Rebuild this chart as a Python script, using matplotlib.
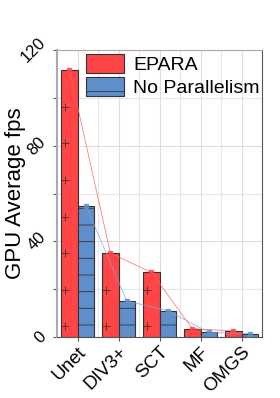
import matplotlib
matplotlib.use("Agg")
import matplotlib.pyplot as plt
import numpy as np

# data
models = ['Unet', 'DIV3+', 'SCT', 'MF', 'OMGS']
epara = [111.7, 35.1, 27.1, 3.5, 2.6]
no_parallel = [55.0, 15.1, 11.1, 2.0, 1.5]

plt.rcParams['font.family'] = ['Liberation Sans', 'DejaVu Sans']
plt.rcParams['hatch.linewidth'] = 0.6

red = '#ff4545'
blue = '#5f8fcb'

fig = plt.figure(figsize=(2.8, 3.98), dpi=100)
ax = fig.add_axes([0.204, 0.153, 0.732, 0.721])

x = np.arange(len(models))
w = 0.4

ax.bar(x - w / 2, epara, w, color=red, edgecolor='#333333', linewidth=0.8,
       label='EPARA', zorder=2)
ax.bar(x + w / 2, no_parallel, w, color=blue, edgecolor='#333333', linewidth=0.8,
       hatch='-', label='No Parallelism', zorder=2)

# sparse '+' texture on the red bars
for xi, h in zip(x, epara):
    ys = np.arange(4.5, h - 1.5, 15.3)
    ax.plot(np.full(len(ys), xi - w / 2 - 0.1), ys, ls='none', marker='+',
            ms=6, mew=0.7, color='#553333', zorder=3)

# connecting lines over the bar tops
ax.plot(x - w / 2, epara, color='#ff6060', lw=0.6, marker='s', ms=2.5,
        mec=red, mfc=red, alpha=0.8, zorder=4)
ax.plot(x + w / 2, no_parallel, color='#7fa6d6', lw=0.6, marker='s', ms=2.5,
        mec=blue, mfc=blue, alpha=0.8, zorder=4)

ax.set_xlim(-0.5, 4.5)
ax.set_ylim(0, 120)
ax.set_yticks([0, 40, 80, 120])
ax.set_yticks([20, 60, 100], minor=True)
ax.set_xticks(x)
ax.set_xticks(x[:-1] + 0.5, minor=True)
ax.set_xticklabels(models, rotation=45, ha='right', rotation_mode='anchor',
                   fontsize=13.5)
ax.set_yticklabels(['0', '40', '80', '120'], rotation=45, fontsize=12,
                   va='center')
ax.tick_params(axis='both', which='both', length=3, width=0.8, color='#555555',
               pad=3)
ax.tick_params(axis='x', which='major', pad=1.5)
ax.tick_params(axis='x', which='minor', length=0)

ax.grid(True, which='major', color='#dddddd', lw=0.8, zorder=0)
ax.grid(True, which='minor', color='#e6e6e6', lw=0.8, zorder=0)
ax.set_axisbelow(True)

ax.set_ylabel('GPU Average fps', fontsize=16)
ax.yaxis.set_label_coords(-0.15, 0.5)

ax.spines['left'].set_color('#aaaaaa')
ax.spines['left'].set_linewidth(1.5)
ax.spines['top'].set_color('#aaaaaa')
ax.spines['right'].set_color('#555555')
ax.spines['bottom'].set_color('#555555')

ax.legend(loc='upper left', bbox_to_anchor=(0.12, 1.0), frameon=False,
          fontsize=14, handlelength=2.0, handleheight=1.15, handletextpad=0.45,
          labelspacing=0.15, borderaxespad=0.1, borderpad=0.1)

fig.savefig('out.png', dpi=100)
